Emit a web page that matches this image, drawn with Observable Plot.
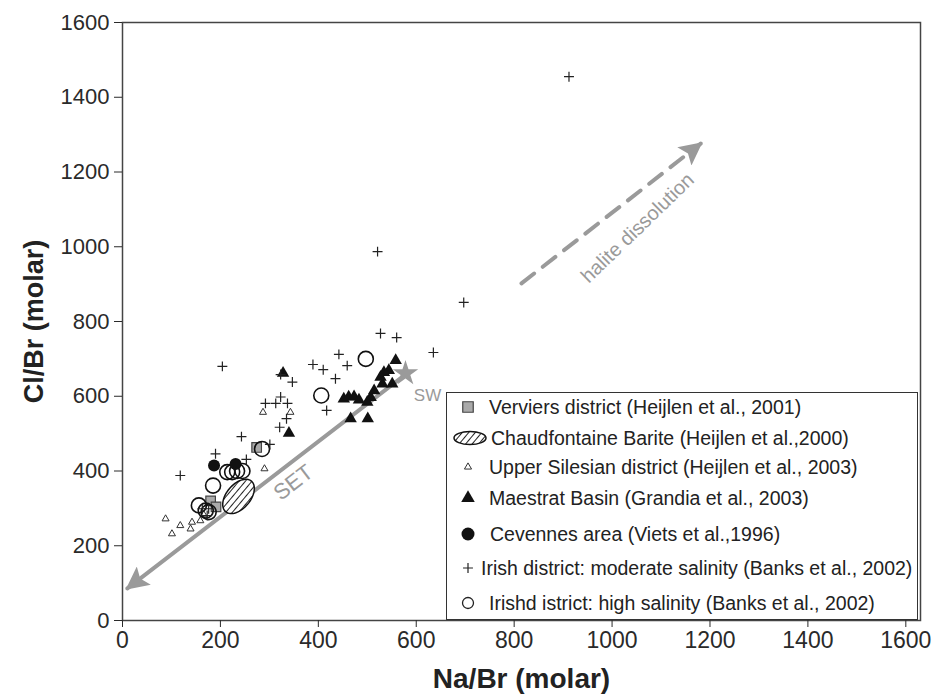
<!DOCTYPE html>
<html><head><meta charset="utf-8">
<script src="https://cdn.jsdelivr.net/npm/d3@7"></script>
<script src="https://cdn.jsdelivr.net/npm/@observablehq/plot@0.6"></script>
<style>
body{margin:0;background:#fff;font-family:"Liberation Sans",Arial,sans-serif;}
#wrap{position:relative;width:934px;height:700px;}
#legend{position:absolute;left:446px;top:392px;width:472px;height:228px;border:1.5px solid #333;background:#fff;box-sizing:border-box;overflow:hidden;}
.row{position:absolute;left:0;height:26px;font-size:19.5px;color:#222;white-space:nowrap;}
.row svg{position:absolute;top:0;left:0;}
.row span{position:absolute;top:1px;line-height:24px;}
</style></head><body><div id="wrap"></div>
<script>
// ---- tick values
const xTicks = [0, 200, 400, 600, 800, 1000, 1200, 1400, 1600];
const yTicks = [0, 200, 400, 600, 800, 1000, 1200, 1400, 1600];

// ---- Verviers district (grey squares)
const verviersNa = [274, 180, 191];
const verviersCl = [463, 320, 304];

// ---- Chaudfontaine Barite (hatched ellipse)
const chaudNa = [237];
const chaudCl = [332];

// ---- Upper Silesian district (small open triangles)
const silesiaNa = [88, 101, 118, 139, 142, 159, 166, 287, 343, 290];
const silesiaCl = [272, 232, 254, 245, 263, 267, 283, 557, 557, 406];

// ---- Maestrat Basin (filled triangles)
const maestratNa = [328, 340, 452, 462, 473, 483, 466, 501, 500, 507, 514, 531, 551, 527, 534, 544, 558];
const maestratCl = [662, 501, 593, 598, 599, 590, 540, 540, 584, 597, 615, 633, 633, 651, 664, 669, 696];

// ---- Cevennes area (filled circles)
const cevennesNa = [187, 231];
const cevennesCl = [415, 419];

// ---- Irish district: moderate salinity (+)
const irishModNa = [204, 389, 410, 442, 459, 435, 347, 323, 527, 560, 635, 521, 697, 912, 292, 313, 323, 337, 335, 321, 417, 243, 190, 253, 301, 118, 163, 176, 173];
const irishModCl = [680, 685, 671, 712, 682, 647, 638, 658, 768, 757, 717, 987, 851, 1455, 581, 581, 598, 581, 540, 517, 562, 492, 446, 431, 471, 388, 299, 299, 281];

// ---- Irish district: high salinity (open circles)
const irishHighNa = [497, 406, 214, 224, 234, 245, 185, 156, 170, 176, 285];
const irishHighCl = [700, 602, 397, 397, 400, 400, 361, 308, 294, 290, 459];

// ---- annotations
const seawaterNa = [578];
const seawaterCl = [661];
const setLineNa = [575, 10];
const setLineCl = [655, 86];
const haliteNa = [815, 1181];
const haliteCl = [902, 1276];
const setLabel = {text: "SET", na: 349, cl: 369};
const swLabel = {text: "SW", na: 623, cl: 603};
const haliteLabel = {text: "halite dissolution", na: 1052, cl: 1050};

// ---- legend
const legendLabels = [
  "Verviers district (Heijlen et al., 2001)",
  "Chaudfontaine Barite (Heijlen et al.,2000)",
  "Upper Silesian district (Heijlen et al., 2003)",
  "Maestrat Basin (Grandia et al., 2003)",
  "Cevennes area (Viets et al.,1996)",
  "Irish district: moderate salinity (Banks et al., 2002)",
  "Irishd istrict: high salinity (Banks et al., 2002)"
];

const toRows = (xs, ys) => xs.map((x, i) => ({x, y: ys[i]}));
const gray = "#9a9a9a";

const ellipseSymbol = {
  draw(ctx) {
    const a = 20, b = 12, t = -50 * Math.PI / 180;
    for (let i = 0; i <= 64; i++) {
      const s = i / 64 * 2 * Math.PI;
      const ex = a * Math.cos(s), ey = b * Math.sin(s);
      const px = ex * Math.cos(t) - ey * Math.sin(t);
      const py = ex * Math.sin(t) + ey * Math.cos(t);
      if (i === 0) ctx.moveTo(px, py); else ctx.lineTo(px, py);
    }
    ctx.closePath();
  }
};

const chart = Plot.plot({
  width: 934,
  height: 700,
  marginLeft: 122,
  marginRight: 14,
  marginTop: 22,
  marginBottom: 80,
  x: {domain: [0, 1630]},
  y: {domain: [0, 1600]},
  style: {fontFamily: "'Liberation Sans', Arial, sans-serif", color: "#2a2a2a", background: "white", overflow: "visible"},
  marks: [
    Plot.frame({stroke: "#444", strokeWidth: 1.5}),
    Plot.axisX({ticks: xTicks, tickFormat: d => String(d), tickSize: 7, tickPadding: 4, fontSize: 23, label: null}),
    Plot.axisY({ticks: yTicks, tickFormat: d => String(d), tickSize: 8, tickPadding: 5, fontSize: 22, label: null}),
    Plot.text(["Na/Br (molar)"], {text: d => d, frameAnchor: "bottom", dy: 67, fontSize: 28, fontWeight: "bold", fill: "#222"}),
    Plot.text(["Cl/Br (molar)"], {text: d => d, frameAnchor: "left", textAnchor: "middle", dx: -88, rotate: -90, fontSize: 27, fontWeight: "bold", fill: "#222"}),
    Plot.line(toRows(setLineNa, setLineCl), {x: "x", y: "y", stroke: gray, strokeWidth: 4, ariaDescription: "set-arrow"}),
    Plot.line(toRows(haliteNa, haliteCl), {x: "x", y: "y", stroke: gray, strokeWidth: 4, strokeDasharray: "16,11", ariaDescription: "halite-arrow"}),
    Plot.dot(toRows(silesiaNa, silesiaCl), {x: "x", y: "y", symbol: "triangle", r: 2.6, stroke: "#333", strokeWidth: 1, fill: "white"}),
    Plot.dot(toRows(chaudNa, chaudCl), {x: "x", y: "y", symbol: ellipseSymbol, r: 10, fill: "url(#hatch)", stroke: "#111", strokeWidth: 1.5}),
    Plot.dot(toRows(verviersNa, verviersCl), {x: "x", y: "y", symbol: "square", r: 5.4, fill: "#aaa", stroke: "#444", strokeWidth: 1.2}),
    Plot.dot(toRows(irishHighNa, irishHighCl), {x: "x", y: "y", symbol: "circle", r: 7.5, fill: "none", stroke: "#111", strokeWidth: 1.6}),
    Plot.dot(toRows(cevennesNa, cevennesCl), {x: "x", y: "y", symbol: "circle", r: 6, fill: "#111"}),
    Plot.dot(toRows(maestratNa, maestratCl), {x: "x", y: "y", symbol: "triangle", r: 4.6, fill: "#111"}),
    Plot.dot(toRows(irishModNa, irishModCl), {x: "x", y: "y", symbol: "plus", r: 3.3, stroke: "#222", strokeWidth: 1.2}),
    Plot.dot(toRows(seawaterNa, seawaterCl), {x: "x", y: "y", symbol: "star", r: 8, fill: gray}),
    Plot.text([setLabel], {x: "na", y: "cl", text: "text", rotate: -37.5, fontSize: 22, fill: gray, letterSpacing: 1.5}),
    Plot.text([swLabel], {x: "na", y: "cl", text: "text", fontSize: 17, fill: gray}),
    Plot.text([haliteLabel], {x: "na", y: "cl", text: "text", rotate: -44, fontSize: 20, fill: gray})
  ]
});

// defs: hatch pattern and filled arrow heads
const defs = document.createElementNS("http://www.w3.org/2000/svg", "defs");
defs.innerHTML = `
<pattern id="hatch" width="5" height="5" patternUnits="userSpaceOnUse" patternTransform="rotate(40)">
  <rect width="5" height="5" fill="white"/>
  <line x1="0" y1="0" x2="0" y2="5" stroke="#222" stroke-width="2"/>
</pattern>
<marker id="ahead" viewBox="0 0 10 10" refX="9" refY="5" markerUnits="userSpaceOnUse" markerWidth="27" markerHeight="23" orient="auto">
  <path d="M0,0L10,5L0,10L2,5z" fill="${gray}"/>
</marker>`;
chart.insertBefore(defs, chart.firstChild);
chart.querySelectorAll('g[aria-description="set-arrow"] path, g[aria-description="halite-arrow"] path')
  .forEach(p => p.setAttribute("marker-end", "url(#ahead)"));

const wrap = document.getElementById("wrap");
wrap.appendChild(chart);

// legend (HTML overlay with d3-drawn symbols)
const legend = document.createElement("div");
legend.id = "legend";
wrap.appendChild(legend);
const rowCenters = [14, 45, 74, 105, 141, 175, 210];
const textLefts = [42, 44, 42, 42, 43, 34, 42];
const iconDraw = [
  g => g.append("path").attr("d", d3.symbol(d3.symbolSquare, 110)()).attr("fill", "#aaa").attr("stroke", "#444").attr("stroke-width", 1.2),
  g => g.append("ellipse").attr("rx", 16).attr("ry", 6.5).attr("fill", "url(#hatchL)").attr("stroke", "#111").attr("stroke-width", 1.5),
  g => g.append("path").attr("d", d3.symbol(d3.symbolTriangle, 22)()).attr("fill", "white").attr("stroke", "#333").attr("stroke-width", 1),
  g => g.append("path").attr("d", d3.symbol(d3.symbolTriangle, 80)()).attr("fill", "#111"),
  g => g.append("circle").attr("r", 6.5).attr("fill", "#111"),
  g => g.append("path").attr("d", d3.symbol(d3.symbolPlus, 34)()).attr("stroke", "#222").attr("stroke-width", 1.2).attr("fill", "none"),
  g => g.append("circle").attr("r", 5.5).attr("fill", "none").attr("stroke", "#222").attr("stroke-width", 1.3)
];
legendLabels.forEach((label, i) => {
  const row = document.createElement("div");
  row.className = "row";
  row.style.top = (rowCenters[i] - 13) + "px";
  row.style.width = "470px";
  const svg = d3.create("svg").attr("width", 44).attr("height", 26);
  if (i === 1) {
    svg.append("defs").html(`<pattern id="hatchL" width="5" height="5" patternUnits="userSpaceOnUse" patternTransform="rotate(40)"><rect width="5" height="5" fill="white"/><line x1="0" y1="0" x2="0" y2="5" stroke="#222" stroke-width="2"/></pattern>`);
  }
  const g = svg.append("g").attr("transform", `translate(${i === 1 ? 23 : 21},13)`);
  iconDraw[i](g);
  row.appendChild(svg.node());
  const span = document.createElement("span");
  span.textContent = label;
  span.style.left = textLefts[i] + "px";
  row.appendChild(span);
  legend.appendChild(row);
});
</script></body></html>
